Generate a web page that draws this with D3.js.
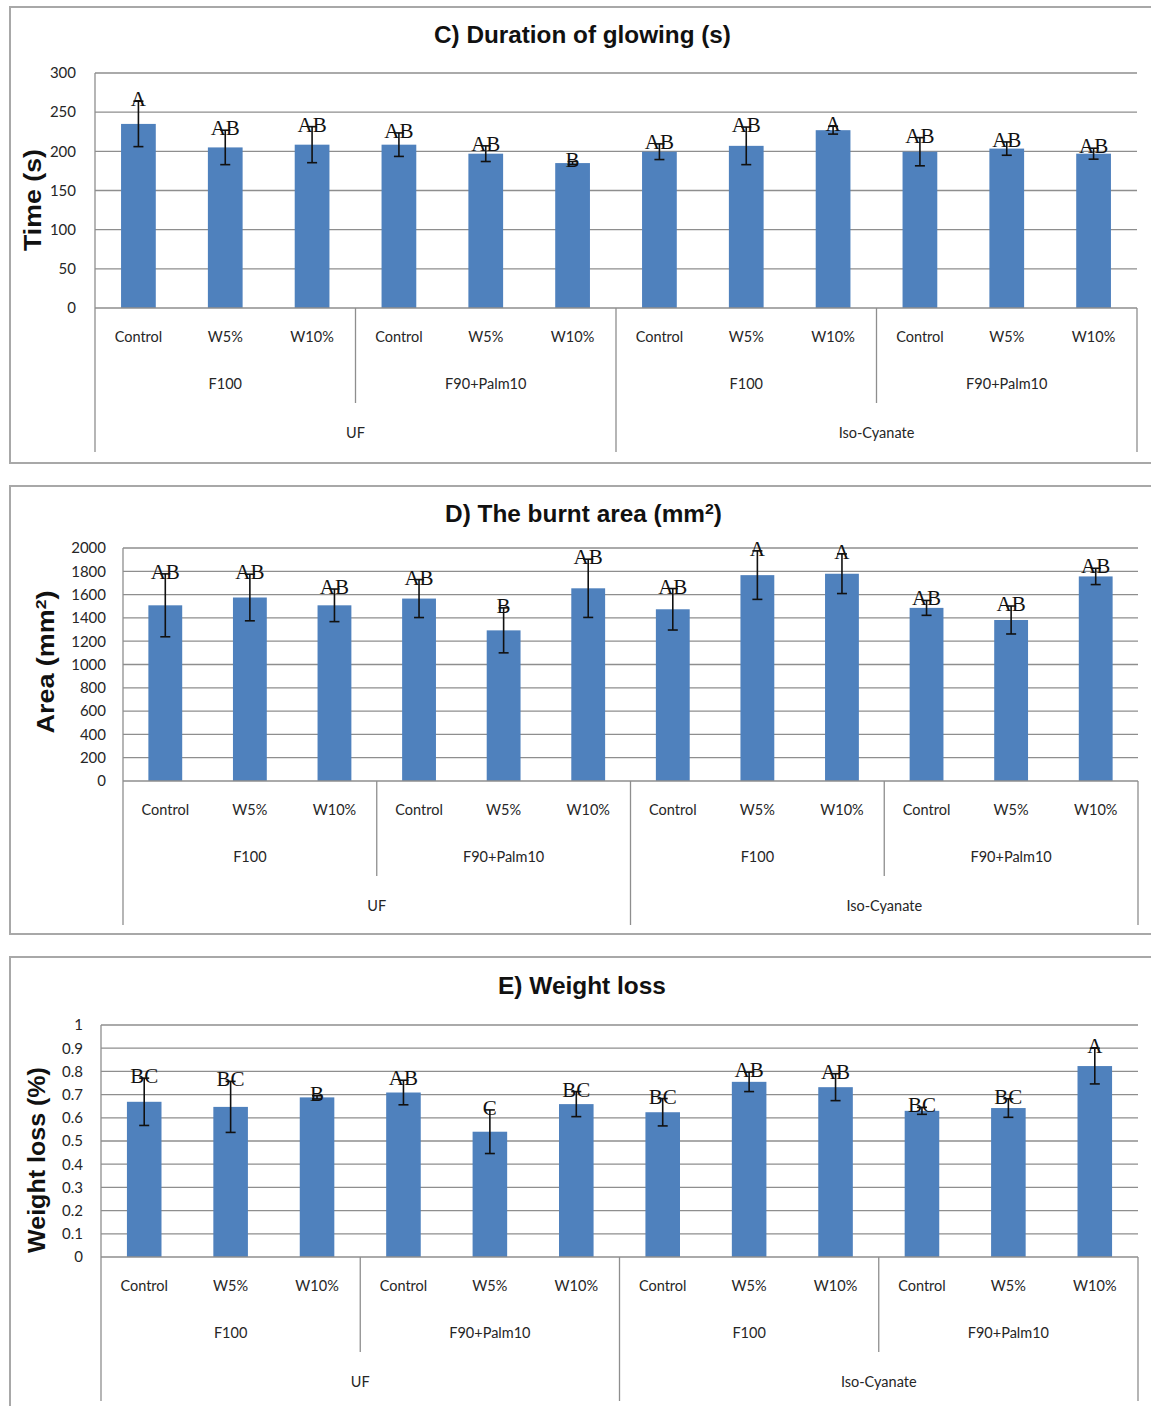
<!DOCTYPE html>
<html>
<head>
<meta charset="utf-8">
<script src="https://cdn.jsdelivr.net/npm/d3@7"></script>
<style>
  html, body { margin: 0; padding: 0; background: #fff; }
  svg { display: block; }
</style>
</head>
<body>
<svg id="fig" width="1151" height="1406"></svg>
<script>
// Treatment labels along the x axis (three levels)
const categories = ["Control", "W5%", "W10%", "Control", "W5%", "W10%",
                    "Control", "W5%", "W10%", "Control", "W5%", "W10%"];
const fillers = ["F100", "F90+Palm10", "F100", "F90+Palm10"];
const adhesives = ["UF", "Iso-Cyanate"];

// C) Duration of glowing (s)
const glowTime = [235, 205, 208.5, 208.5, 197, 185, 199.5, 207, 227, 199.5, 203.5, 197];
const glowErr = [29, 22, 23, 15, 10, 2, 10, 24, 5, 18, 8.5, 7];
const glowLetters = ["A", "AB", "AB", "AB", "AB", "B", "AB", "AB", "A", "AB", "AB", "AB"];
const glowTicks = [0, 50, 100, 150, 200, 250, 300];

// D) The burnt area (mm²)
const burntArea = [1508, 1575, 1508, 1566, 1293, 1654, 1474, 1767, 1779, 1486, 1382, 1756];
const areaErr = [270, 200, 140, 163, 193, 250, 178, 208, 170, 64, 120, 70];
const areaLetters = ["AB", "AB", "AB", "AB", "B", "AB", "AB", "A", "A", "AB", "AB", "AB"];
const areaTicks = [0, 200, 400, 600, 800, 1000, 1200, 1400, 1600, 1800, 2000];

// E) Weight loss (%)
const weightLoss = [0.669, 0.647, 0.688, 0.709, 0.540, 0.659, 0.624, 0.755, 0.732, 0.630, 0.642, 0.823];
const lossErr = [0.102, 0.110, 0.007, 0.053, 0.094, 0.054, 0.059, 0.042, 0.058, 0.015, 0.040, 0.077];
const lossLetters = ["BC", "BC", "B", "AB", "C", "BC", "BC", "AB", "AB", "BC", "BC", "A"];
const lossTicks = [0, 0.1, 0.2, 0.3, 0.4, 0.5, 0.6, 0.7, 0.8, 0.9, 1];

const svg = d3.select("#fig");
const BAR = "#4f81bd";
const GRID = "#8e8e8e";
const SANS = "'Liberation Sans', Arial, sans-serif";
const LABEL_FONT = "Lato, 'Noto Sans', sans-serif";
const SERIF = "'Liberation Serif', 'Times New Roman', serif";

// Squeeze or stretch a text node so that it spans the requested length
function fitLength(sel, target, vertical) {
  const node = sel.node();
  const w = node.getComputedTextLength();
  const k = target / w;
  const x = +sel.attr("x"), y = +sel.attr("y");
  if (vertical) {
    sel.attr("transform", `translate(${x},${y}) rotate(-90) scale(${k},1) translate(${-x},${-y})`);
  } else {
    sel.attr("transform", `translate(${x},${y}) scale(${k},1) translate(${-x},${-y})`);
  }
}

function drawPanel(cfg) {
  const g = svg.append("g");

  // panel frame
  g.append("rect")
    .attr("x", 10).attr("y", cfg.frameTop)
    .attr("width", 1160).attr("height", cfg.frameBottom - cfg.frameTop)
    .attr("fill", "#fff").attr("stroke", "#a8a8a8").attr("stroke-width", 2);

  const x = d3.scaleBand()
    .domain(d3.range(cfg.values.length))
    .range([cfg.left, cfg.right])
    .paddingInner(0.6)
    .paddingOuter(0.3);
  const y = d3.scaleLinear()
    .domain([0, cfg.ticks[cfg.ticks.length - 1]])
    .range([cfg.bottom, cfg.top]);
  const step = x.step();
  const boundary = k => cfg.left + k * step;

  // horizontal gridlines
  g.append("g").selectAll("line")
    .data(cfg.ticks.filter(t => t > 0))
    .join("line")
    .attr("x1", cfg.left).attr("x2", cfg.right)
    .attr("y1", d => y(d)).attr("y2", d => y(d))
    .attr("stroke", GRID).attr("stroke-width", 1.3);

  // y axis tick labels
  const yAxis = d3.axisLeft(y)
    .tickValues(cfg.ticks)
    .tickSize(0)
    .tickPadding(cfg.tickPad)
    .tickFormat(d => String(d));
  const ya = g.append("g")
    .attr("transform", `translate(${cfg.left},0)`)
    .call(yAxis);
  ya.select(".domain").remove();
  ya.selectAll("text")
    .attr("font-family", LABEL_FONT)
    .attr("font-size", 15)
    .attr("fill", "#262626");

  // bars
  g.append("g").selectAll("rect")
    .data(cfg.values)
    .join("rect")
    .attr("x", (d, i) => x(i))
    .attr("width", x.bandwidth())
    .attr("y", d => y(d))
    .attr("height", d => y(0) - y(d))
    .attr("fill", BAR);

  // error bars
  const eb = g.append("g").attr("stroke", "#111").attr("stroke-width", 1.6);
  cfg.values.forEach((v, i) => {
    const cx = x(i) + x.bandwidth() / 2;
    const hi = y(v + cfg.errors[i]), lo = y(v - cfg.errors[i]);
    eb.append("line").attr("x1", cx).attr("x2", cx).attr("y1", hi).attr("y2", lo);
    eb.append("line").attr("x1", cx - 5).attr("x2", cx + 5).attr("y1", hi).attr("y2", hi);
    eb.append("line").attr("x1", cx - 5).attr("x2", cx + 5).attr("y1", lo).attr("y2", lo);
  });

  // significance letters
  g.append("g").selectAll("text")
    .data(cfg.letters)
    .join("text")
    .attr("x", (d, i) => x(i) + x.bandwidth() / 2)
    .attr("y", (d, i) => y(cfg.values[i] + cfg.errors[i]) + 5)
    .attr("text-anchor", "middle")
    .attr("font-family", SERIF)
    .attr("font-size", 21)
    .attr("fill", "#111")
    .text(d => d);

  // axis lines and group dividers
  const lines = g.append("g").attr("stroke", GRID).attr("stroke-width", 1.3);
  lines.append("line")
    .attr("x1", cfg.left).attr("x2", cfg.right)
    .attr("y1", y(0)).attr("y2", y(0));
  lines.append("line")
    .attr("x1", cfg.left).attr("x2", cfg.left)
    .attr("y1", cfg.top).attr("y2", y(0) + 144);
  [3, 6, 9, 12].forEach(k => {
    const long = k % 6 === 0;
    lines.append("line")
      .attr("x1", boundary(k)).attr("x2", boundary(k))
      .attr("y1", y(0)).attr("y2", y(0) + (long ? 144 : 95));
  });

  const txt = (sel) => sel
    .attr("text-anchor", "middle")
    .attr("dominant-baseline", "central")
    .attr("font-family", LABEL_FONT)
    .attr("font-size", 14.5)
    .attr("fill", "#262626");

  g.append("g").selectAll("text")
    .data(categories)
    .join("text")
    .attr("x", (d, i) => x(i) + x.bandwidth() / 2)
    .attr("y", y(0) + 28)
    .call(txt)
    .text(d => d);

  g.append("g").selectAll("text")
    .data(fillers)
    .join("text")
    .attr("x", (d, i) => boundary(3 * i + 1.5))
    .attr("y", y(0) + 75)
    .call(txt)
    .text(d => d);

  g.append("g").selectAll("text")
    .data(adhesives)
    .join("text")
    .attr("x", (d, i) => boundary(6 * i + 3))
    .attr("y", y(0) + 124)
    .call(txt)
    .text(d => d);

  // chart title
  const title = g.append("text")
    .attr("x", cfg.titleX).attr("y", cfg.titleY)
    .attr("text-anchor", "middle")
    .attr("font-family", SANS)
    .attr("font-weight", "bold")
    .attr("font-size", 23)
    .attr("fill", "#111");
  cfg.title(title);
  fitLength(title, cfg.titleWidth, false);

  // y axis title
  const yt = g.append("text")
    .attr("x", cfg.yTitleX).attr("y", cfg.yTitleY)
    .attr("text-anchor", "middle")
    .attr("font-family", SANS)
    .attr("font-weight", "bold")
    .attr("font-size", 23)
    .attr("fill", "#111");
  cfg.yTitle(yt);
  fitLength(yt, cfg.yTitleLen, true);
}

drawPanel({
  frameTop: 7, frameBottom: 463,
  left: 95, right: 1137, top: 73, bottom: 308, tickPad: 19,
  values: glowTime, errors: glowErr, letters: glowLetters, ticks: glowTicks,
  titleX: 582.5, titleY: 43, titleWidth: 297,
  title: t => t.text("C) Duration of glowing (s)"),
  yTitleX: 41, yTitleY: 200, yTitleLen: 102,
  yTitle: t => t.text("Time  (s)")
});

drawPanel({
  frameTop: 486, frameBottom: 934,
  left: 123, right: 1138, top: 548, bottom: 781, tickPad: 17,
  values: burntArea, errors: areaErr, letters: areaLetters, ticks: areaTicks,
  titleX: 583.5, titleY: 522, titleWidth: 277,
  title: t => {
    t.append("tspan").text("D) The burnt area (mm");
    t.append("tspan").attr("font-size", 15).attr("dy", -8).text("2");
    t.append("tspan").attr("dy", 8).text(")");
  },
  yTitleX: 54, yTitleY: 662, yTitleLen: 143,
  yTitle: t => {
    t.append("tspan").text("Area  (mm");
    t.append("tspan").attr("font-size", 15).attr("dy", -8).text("2");
    t.append("tspan").attr("dy", 8).text(")");
  }
});

drawPanel({
  frameTop: 957, frameBottom: 1430,
  left: 101, right: 1138, top: 1025, bottom: 1257, tickPad: 18,
  values: weightLoss, errors: lossErr, letters: lossLetters, ticks: lossTicks,
  titleX: 582, titleY: 994, titleWidth: 168,
  title: t => t.text("E) Weight loss"),
  yTitleX: 45, yTitleY: 1160, yTitleLen: 186,
  yTitle: t => t.text("Weight  loss (%)")
});
</script>
</body>
</html>
